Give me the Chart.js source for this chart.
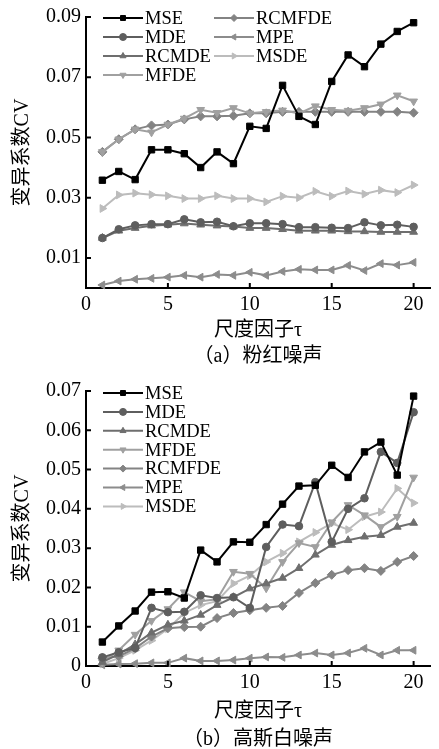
<!DOCTYPE html>
<html>
<head>
<meta charset="utf-8">
<script src="https://cdn.jsdelivr.net/npm/chart.js@4.4.0/dist/chart.umd.min.js"></script>
<style>
  body { margin: 0; background: #fff; width: 439px; height: 749px; position: relative; overflow: hidden; }
  .box { position: absolute; left: 0; width: 439px; }
  .caption { position: absolute; left: 86px; width: 344px; text-align: center;
             font: 20px 'Liberation Serif', 'Noto Sans CJK SC', serif; line-height: 24px; color: #000; }
</style>
</head>
<body>
<div class="box" style="top:0;height:345px"><canvas id="pink"></canvas></div>
<div class="caption" style="top:343px">（a）粉红噪声</div>
<div class="box" style="top:360px;height:389px"><canvas id="white"></canvas></div>
<div class="caption" style="top:726px">（b）高斯白噪声</div>

<script>
// scale factor tau
const tau = [1, 2, 3, 4, 5, 6, 7, 8, 9, 10, 11, 12, 13, 14, 15, 16, 17, 18, 19, 20];
const xTicks = [0, 5, 10, 15, 20];
const yTicksA = [0.01, 0.03, 0.05, 0.07, 0.09];
const yTicksB = [0, 0.01, 0.02, 0.03, 0.04, 0.05, 0.06, 0.07];

// (a) pink noise
const mseA    = [0.0358, 0.0387, 0.0360, 0.0459, 0.0459, 0.0446, 0.0400, 0.0452, 0.0413, 0.0537, 0.0530, 0.0673, 0.0570, 0.0543, 0.0686, 0.0774, 0.0735, 0.0810, 0.0852, 0.0881];
const mdeA    = [0.0166, 0.0195, 0.0208, 0.0212, 0.0212, 0.0228, 0.0218, 0.0220, 0.0205, 0.0215, 0.0215, 0.0212, 0.0202, 0.0202, 0.0200, 0.0199, 0.0218, 0.0208, 0.0210, 0.0203];
const rcmdeA  = [0.0166, 0.0190, 0.0199, 0.0207, 0.0210, 0.0214, 0.0210, 0.0207, 0.0204, 0.0199, 0.0199, 0.0195, 0.0190, 0.0190, 0.0190, 0.0188, 0.0188, 0.0186, 0.0186, 0.0186];
const mfdeA   = [0.0452, 0.0494, 0.0527, 0.0517, 0.0543, 0.0563, 0.0592, 0.0582, 0.0598, 0.0580, 0.0585, 0.0590, 0.0580, 0.0604, 0.0592, 0.0589, 0.0598, 0.0610, 0.0640, 0.0620];
const rcmfdeA = [0.0452, 0.0494, 0.0527, 0.0540, 0.0543, 0.0560, 0.0570, 0.0570, 0.0572, 0.0580, 0.0580, 0.0585, 0.0585, 0.0585, 0.0585, 0.0585, 0.0585, 0.0585, 0.0585, 0.0582];
const mpeA    = [0.0010, 0.0023, 0.0029, 0.0032, 0.0036, 0.0042, 0.0036, 0.0045, 0.0042, 0.0052, 0.0042, 0.0055, 0.0062, 0.0060, 0.0060, 0.0075, 0.0058, 0.0081, 0.0076, 0.0085];
const msdeA   = [0.0264, 0.0309, 0.0315, 0.0310, 0.0306, 0.0297, 0.0297, 0.0306, 0.0297, 0.0297, 0.0286, 0.0305, 0.0300, 0.0321, 0.0305, 0.0322, 0.0312, 0.0325, 0.0317, 0.0342];

// (b) gaussian white noise
const mseB    = [0.0061, 0.0102, 0.0140, 0.0188, 0.0189, 0.0173, 0.0295, 0.0265, 0.0316, 0.0315, 0.0360, 0.0412, 0.0458, 0.0460, 0.0511, 0.0480, 0.0545, 0.0570, 0.0486, 0.0687];
const mdeB    = [0.0022, 0.0035, 0.0046, 0.0148, 0.0137, 0.0138, 0.0180, 0.0173, 0.0175, 0.0148, 0.0303, 0.0360, 0.0356, 0.0468, 0.0316, 0.0400, 0.0427, 0.0545, 0.0517, 0.0646];
const rcmdeB  = [0.0010, 0.0030, 0.0055, 0.0085, 0.0105, 0.0115, 0.0130, 0.0155, 0.0175, 0.0197, 0.0210, 0.0224, 0.0249, 0.0283, 0.0308, 0.0320, 0.0329, 0.0333, 0.0354, 0.0364];
const mfdeB   = [0.0010, 0.0040, 0.0080, 0.0115, 0.0145, 0.0188, 0.0165, 0.0170, 0.0240, 0.0235, 0.0198, 0.0265, 0.0313, 0.0303, 0.0366, 0.0410, 0.0384, 0.0354, 0.0380, 0.0480];
const rcmfdeB = [0.0020, 0.0025, 0.0045, 0.0075, 0.0096, 0.0099, 0.0100, 0.0122, 0.0135, 0.0142, 0.0148, 0.0153, 0.0186, 0.0211, 0.0232, 0.0244, 0.0249, 0.0242, 0.0265, 0.0280];
const mpeB    = [0.0003, 0.0005, 0.0006, 0.0008, 0.0008, 0.0020, 0.0013, 0.0013, 0.0015, 0.0020, 0.0023, 0.0022, 0.0028, 0.0033, 0.0028, 0.0033, 0.0045, 0.0028, 0.0040, 0.0040];
const msdeB   = [0.0005, 0.0020, 0.0040, 0.0065, 0.0095, 0.0135, 0.0155, 0.0165, 0.0210, 0.0230, 0.0265, 0.0287, 0.0316, 0.0340, 0.0363, 0.0347, 0.0380, 0.0392, 0.0452, 0.0415];

const FONT = "'Liberation Serif', 'Noto Sans CJK SC', serif";
Chart.defaults.font.family = FONT;
Chart.defaults.color = '#000';

function series(label, values, color, style, rotation, radius) {
    return {
        label: label,
        data: tau.map((t, i) => ({ x: t, y: values[i] })),
        borderColor: color,
        backgroundColor: color,
        pointStyle: style,
        pointRotation: rotation,
        pointRadius: radius,
        pointHoverRadius: radius,
        pointBorderWidth: 1,
        borderWidth: 2,
        tension: 0,
        clip: false
    };
}

// small ticks pointing into the plot, like the paper figure
const inwardTicks = {
    id: 'inwardTicks',
    afterDatasetsDraw(chart) {
        const ctx = chart.ctx;
        const xs = chart.scales.x, ys = chart.scales.y;
        ctx.save();
        ctx.strokeStyle = '#000';
        ctx.lineWidth = 2;
        ctx.beginPath();
        xs.ticks.forEach(t => {
            const px = xs.getPixelForValue(t.value);
            ctx.moveTo(px, xs.top);
            ctx.lineTo(px, xs.top - 5);
        });
        ys.ticks.forEach(t => {
            const py = ys.getPixelForValue(t.value);
            ctx.moveTo(ys.right, py);
            ctx.lineTo(ys.right + 5, py);
        });
        ctx.stroke();
        ctx.restore();
    }
};

// legend drawn inside the plot, filled column by column
const boxLegend = {
    id: 'boxLegend',
    afterDraw(chart, args, opts) {
        const ctx = chart.ctx, area = chart.chartArea;
        ctx.save();
        ctx.font = '18.5px ' + FONT;
        ctx.textBaseline = 'middle';
        chart.data.datasets.forEach((ds, i) => {
            const col = Math.floor(i / opts.rows), row = i % opts.rows;
            const x0 = area.left + opts.left + col * opts.colWidth;
            const yc = area.top + opts.top + row * opts.rowHeight;
            ctx.strokeStyle = ds.borderColor;
            ctx.fillStyle = ds.borderColor;
            ctx.lineWidth = 2;
            ctx.beginPath();
            ctx.moveTo(x0, yc);
            ctx.lineTo(x0 + 40, yc);
            ctx.stroke();
            ctx.lineWidth = 1;
            Chart.helpers.drawPoint(ctx, { pointStyle: ds.pointStyle, rotation: ds.pointRotation, radius: 3.5, borderWidth: 1 }, x0 + 20, yc);
            ctx.fillStyle = '#000';
            ctx.fillText(ds.label, x0 + 42, yc + 1);
        });
        ctx.restore();
    }
};

function createChart(id, sets, yMax, yTicks, pad, xAxisHeight, legend) {
    const ctx = document.getElementById(id).getContext('2d');
    return new Chart(ctx, {
        type: 'line',
        data: {
            datasets: [
                series('MSE',    sets[0], '#000000', 'rect',     0,   4.5),
                series('MDE',    sets[1], '#5e5e5e', 'circle',   0,   3.8),
                series('RCMDE',  sets[2], '#6e6e6e', 'triangle', 0,   4.5),
                series('MFDE',   sets[3], '#a0a0a0', 'triangle', 180, 4.5),
                series('RCMFDE', sets[4], '#838383', 'rectRot',  0,   4.5),
                series('MPE',    sets[5], '#8c8c8c', 'triangle', 270, 4.5),
                series('MSDE',   sets[6], '#bcbcbc', 'triangle', 90,  4.5)
            ]
        },
        options: {
            responsive: true,
            maintainAspectRatio: false,
            animation: false,
            layout: { padding: pad },
            scales: {
                x: {
                    type: 'linear',
                    min: 0,
                    max: 21,
                    afterBuildTicks: ax => { ax.ticks = xTicks.map(v => ({ value: v })); },
                    afterFit: ax => { ax.height = xAxisHeight; },
                    grid: { display: false, drawTicks: false },
                    border: { display: true, color: '#000', width: 2 },
                    ticks: { padding: 5, autoSkip: false, maxRotation: 0, color: '#000', font: { size: 20 } },
                    title: { display: true, text: '尺度因子τ', color: '#000', font: { size: 20 }, padding: { top: 0, bottom: 2 } }
                },
                y: {
                    min: 0,
                    max: yMax,
                    afterBuildTicks: ax => { ax.ticks = yTicks.map(v => ({ value: v })); },
                    afterFit: ax => { ax.width = 86; },
                    grid: { display: false, drawTicks: false },
                    border: { display: true, color: '#000', width: 2 },
                    ticks: {
                        padding: 5, autoSkip: false, color: '#000', font: { size: 20 },
                        callback: v => v === 0 ? '0' : v.toFixed(2)
                    },
                    title: { display: true, text: '变异系数CV', color: '#000', font: { size: 20 }, padding: { top: 11, bottom: 0 } }
                }
            },
            plugins: {
                legend: { display: false },
                tooltip: { enabled: false },
                boxLegend: legend
            }
        },
        plugins: [inwardTicks, boxLegend]
    });
}

createChart('pink', [mseA, mdeA, rcmdeA, mfdeA, rcmfdeA, mpeA, msdeA], 0.09, yTicksA,
    { top: 13, right: 9, bottom: 0, left: 0 }, 57,
    { rows: 4, left: 17, top: 1, rowHeight: 19, colWidth: 111 });

createChart('white', [mseB, mdeB, rcmdeB, mfdeB, rcmfdeB, mpeB, msdeB], 0.07, yTicksB,
    { top: 31, right: 9, bottom: 23, left: 0 }, 60,
    { rows: 7, left: 17, top: 2, rowHeight: 18.9, colWidth: 0 });
</script>
</body>
</html>
